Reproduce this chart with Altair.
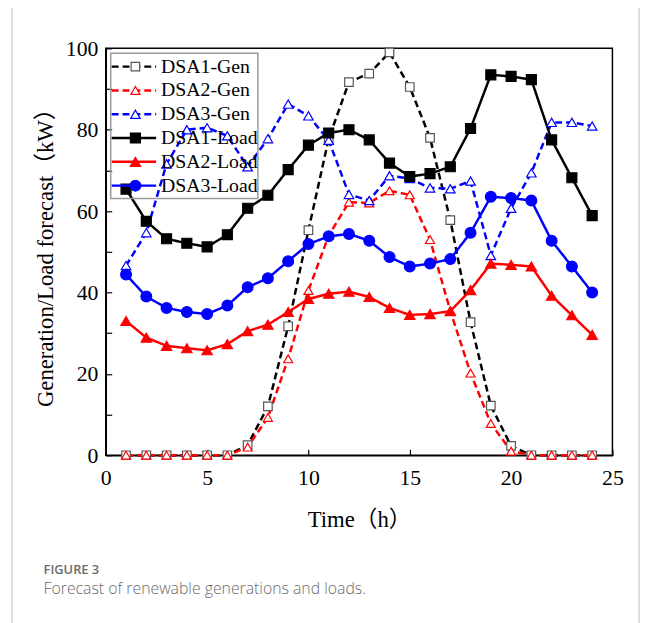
import altair as alt
import pandas as pd

hours = list(range(1, 25))
series_names = ["DSA1-Gen", "DSA2-Gen", "DSA3-Gen", "DSA1-Load", "DSA2-Load", "DSA3-Load"]

dsa1_gen = [0, 0, 0, 0, 0, 0, 2.5, 12.0, 31.7, 55.3, 77.8, 91.7, 93.8, 99.0, 90.5, 78.0, 57.8, 32.7, 12.2, 2.3, 0, 0, 0, 0]
dsa2_gen = [0, 0, 0, 0, 0, 0, 2.0, 9.3, 23.7, 40.5, 54.0, 62.2, 62.0, 65.0, 64.0, 53.0, 35.5, 20.2, 7.8, 1.0, 0, 0, 0, 0]
dsa3_gen = [46.6, 54.7, 71.6, 80.0, 80.5, 78.5, 70.9, 77.8, 86.3, 83.4, 77.4, 64.1, 62.6, 68.7, 68.0, 65.7, 65.5, 67.4, 49.1, 60.7, 69.4, 81.8, 81.8, 80.9]
dsa1_load = [65.4, 57.5, 53.2, 52.1, 51.2, 54.2, 60.7, 63.9, 70.2, 76.2, 79.2, 80.0, 77.5, 71.8, 68.5, 69.2, 70.9, 80.3, 93.5, 93.1, 92.3, 77.5, 68.2, 58.9]
dsa2_load = [33.0, 28.9, 26.9, 26.3, 25.8, 27.3, 30.5, 32.1, 35.2, 38.4, 39.7, 40.2, 38.9, 36.2, 34.5, 34.7, 35.4, 40.6, 47.1, 46.8, 46.4, 39.2, 34.4, 29.6]
dsa3_load = [44.4, 39.0, 36.2, 35.2, 34.7, 36.8, 41.3, 43.5, 47.7, 51.9, 53.8, 54.4, 52.7, 48.7, 46.4, 47.1, 48.2, 54.7, 63.5, 63.2, 62.6, 52.7, 46.4, 40.0]

x_ticks = [0, 5, 10, 15, 20, 25]
y_ticks = [0, 10, 20, 30, 40, 50, 60, 70, 80, 90, 100]

all_series = [dsa1_gen, dsa2_gen, dsa3_gen, dsa1_load, dsa2_load, dsa3_load]
rows = []
for name, vals in zip(series_names, all_series):
    for h, v in zip(hours, vals):
        rows.append({"hour": h, "value": v, "series": name})
df = pd.DataFrame(rows)
legend_df = pd.DataFrame({"series": series_names})

SERIF = "Liberation Serif, Times New Roman, Noto Sans CJK SC"
W, H = 513, 412

color_enc = alt.Color("series:N", scale=alt.Scale(domain=series_names,
                      range=["black", "red", "blue", "black", "red", "blue"]), legend=None)
dash_enc = alt.StrokeDash("series:N", scale=alt.Scale(domain=series_names,
                          range=[[7, 4], [7, 4], [7, 4], [1, 0], [1, 0], [1, 0]]), legend=None)
shape_enc = alt.Shape("series:N", scale=alt.Scale(domain=series_names,
                      range=["square", "triangle-up", "triangle-up", "square", "triangle-up", "circle"]), legend=None)
stroke_enc = alt.Stroke("series:N", scale=alt.Scale(domain=series_names,
                        range=["#555555", "red", "blue", "black", "red", "blue"]), legend=None)
fill_enc = alt.Fill("series:N", scale=alt.Scale(domain=series_names,
                    range=["white", "white", "white", "black", "red", "blue"]), legend=None)
size_enc = alt.Size("series:N", scale=alt.Scale(domain=series_names,
                    range=[75, 120, 120, 64, 120, 95]), legend=None)

x_enc = alt.X("hour:Q", scale=alt.Scale(domain=[0, 25], nice=False),
              axis=alt.Axis(values=x_ticks, title="Time（h）", labelFlush=False,
                            tickSize=alt.ExprRef("-6"), labelPadding=19, titlePadding=20))
y_enc = alt.Y("value:Q", scale=alt.Scale(domain=[0, 100], nice=False),
              axis=alt.Axis(values=y_ticks, title="Generation/Load forecast（kW）",
                            labelExpr="datum.value % 20 == 0 ? datum.label : ''",
                            labelFlush=False, tickSize=alt.ExprRef("-6"), labelPadding=14,
                            titlePadding=8))

lines = alt.Chart(df).mark_line(strokeWidth=2.5).encode(
    x=x_enc, y=y_enc, color=color_enc, strokeDash=dash_enc, detail="series:N")
points = alt.Chart(df).mark_point(filled=True, strokeWidth=1.2, opacity=1).encode(
    x=alt.X("hour:Q"), y=alt.Y("value:Q"), shape=shape_enc, stroke=stroke_enc,
    fill=fill_enc, size=size_enc)
data_layer = alt.layer(lines, points)

leg_y = alt.Y("series:N", scale=alt.Scale(type="point", domain=series_names,
                                          range=[18.5, 139], padding=0), axis=None)
leg_box = alt.Chart(legend_df.head(1)).mark_rect(filled=False, stroke="#9a9a9a", strokeWidth=1.5).encode(
    x=alt.value(5), x2=alt.value(154), y=alt.value(5), y2=alt.value(152))
leg_rule = alt.Chart(legend_df).mark_rule(strokeWidth=2.5).encode(
    x=alt.value(6), x2=alt.value(51), y=leg_y, color=color_enc, strokeDash=dash_enc)
leg_pts = alt.Chart(legend_df).mark_point(filled=True, strokeWidth=1.2, opacity=1).encode(
    x=alt.value(30), y=leg_y, shape=shape_enc, stroke=stroke_enc, fill=fill_enc, size=size_enc)
leg_txt = alt.Chart(legend_df).mark_text(align="left", baseline="middle", font=SERIF,
                                         fontSize=20, color="black").encode(
    x=alt.value(56), y=leg_y, text="series:N")
legend_layer = alt.layer(leg_box, leg_rule, leg_pts, leg_txt)

frame = alt.Chart(legend_df.head(1)).mark_rect(filled=False, stroke="#c8c8c8", strokeWidth=1.2).encode(
    x=alt.value(-95), x2=alt.value(540), y=alt.value(-42), y2=alt.value(640))
cap1 = alt.Chart(legend_df.head(1)).mark_text(align="left", baseline="alphabetic", font="Open Sans",
                                              fontSize=13, fontWeight=600, color="#6b6b6b").encode(
    x=alt.value(-63), y=alt.value(532), text=alt.value("FIGURE 3"))
cap2 = alt.Chart(legend_df.head(1)).mark_text(align="left", baseline="alphabetic", font="Open Sans",
                                              fontSize=16, fontWeight=300, color="#6b6b6b").encode(
    x=alt.value(-63), y=alt.value(552), text=alt.value("Forecast of renewable generations and loads."))

chart = alt.layer(frame, data_layer, legend_layer, cap1, cap2).resolve_scale(
    y="independent"
).properties(
    width=W, height=H,
    background="white",
    autosize=alt.AutoSizeParams(type="none"),
    padding={"left": 99, "top": 37, "right": 34, "bottom": 166},
).configure_view(
    stroke="black", strokeWidth=1.5
).configure_axis(
    labelFont=SERIF, labelFontSize=22, labelColor="black",
    titleFont=SERIF, titleFontSize=23, titleFontWeight="normal", titleColor="black",
    domainColor="black", domainWidth=1.5, tickColor="black", tickWidth=1.2, grid=False
)

chart.save("out.html", embed_options={"renderer": "svg", "actions": False})
